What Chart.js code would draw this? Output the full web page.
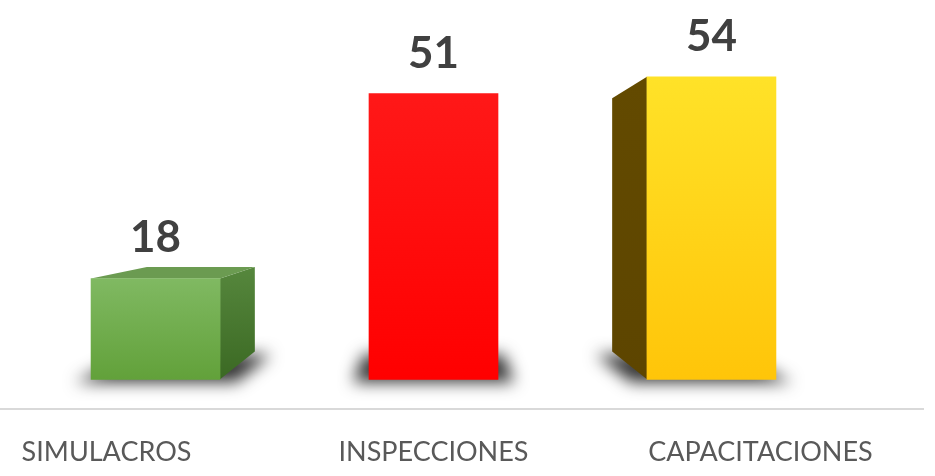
<!DOCTYPE html>
<html>
<head>
<meta charset="utf-8">
<script src="https://cdn.jsdelivr.net/npm/chart.js@4.4.1/dist/chart.umd.min.js"></script>
<style>
  html, body { margin: 0; padding: 0; background: #ffffff; width: 935px; height: 476px; overflow: hidden; }
  /* the plot runs a little past the left edge so the first category sits close to the border */
  #wrap { position: absolute; left: -57px; top: 0; width: 981px; height: 476px; }
</style>
</head>
<body>
<div id="wrap"><canvas id="chart"></canvas></div>
<script>
// ---- data ----
const categories = ['SIMULACROS', 'INSPECCIONES', 'CAPACITACIONES'];
const values = [18, 51, 54];

// ---- look ----
const palette = [
  { front: ['#80b962', '#62a13a'], side: ['#56873d', '#3b6923'], top: '#6b9b51' },
  { front: ['#ff1818', '#ff0000'], side: ['#b80000', '#9a0000'], top: '#d80000' },
  { front: ['#ffe228', '#ffc509'], side: ['#634a00', '#5d4500'], top: '#f2cf20' }
];

// the boxes stand a bit behind the axis plane, so their fronts are drawn
// smaller and pulled toward the middle of the plot
const FRONT_SCALE = 0.85;
const BACK_DEPTH = 0.163;     // how far the back face recedes toward the vanishing point
const HORIZON_VALUE = 30.5;   // height of the vanishing point on the value axis

function frontFill(c) {
  const i = c.dataIndex;
  const p = palette[i ?? 0];
  const chart = c.chart;
  const ys = chart.scales && chart.scales.y;
  if (i === undefined || !ys || !chart.chartArea) return p.front[1];
  const top = ys.getPixelForValue(values[i]);
  const base = ys.getPixelForValue(0);
  const g = chart.ctx.createLinearGradient(0, top, 0, base);
  g.addColorStop(0, p.front[0]);
  g.addColorStop(1, p.front[1]);
  return g;
}

function poly(ctx, pts) {
  ctx.beginPath();
  pts.forEach(([px, py], k) => (k ? ctx.lineTo(px, py) : ctx.moveTo(px, py)));
  ctx.closePath();
}

const box3d = {
  id: 'box3d',
  beforeDatasetsDraw(chart) {
    const ctx = chart.ctx;
    const xb = chart.scales.xb, ys = chart.scales.y;
    const vx = xb.getPixelForValue(1);
    const vy = ys.getPixelForValue(HORIZON_VALUE);
    const meta = chart.getDatasetMeta(0);
    meta.data.forEach((bar, i) => {
      const { x, y: top, base, width } = bar.getProps(['x', 'y', 'base', 'width'], true);
      const l = x - width / 2, r = x + width / 2;
      const back = (px, py) => [px + (vx - px) * BACK_DEPTH, py + (vy - py) * BACK_DEPTH];
      const fTL = [l, top], fTR = [r, top], fBL = [l, base], fBR = [r, base];
      const bTL = back(l, top), bTR = back(r, top), bBL = back(l, base), bBR = back(r, base);
      const p = palette[i];

      // soft floor shadow under the box
      const OFF = 3000, spread = 16;
      ctx.save();
      ctx.shadowColor = 'rgba(0,0,0,0.8)';
      ctx.shadowBlur = 16;
      ctx.shadowOffsetX = OFF;
      ctx.shadowOffsetY = 3;
      ctx.fillStyle = '#000';
      poly(ctx, [
        [fBL[0] - spread - OFF, fBL[1]], [fBR[0] + spread - OFF, fBR[1]],
        [bBR[0] + spread - OFF, bBR[1]], [bBL[0] - spread - OFF, bBL[1]]
      ]);
      ctx.fill();
      ctx.restore();

      // side faces that face the viewer
      ctx.save();
      if (vx > r || vx < l) {
        const pts = vx > r ? [fTR, bTR, bBR, fBR] : [fTL, bTL, bBL, fBL];
        const g = ctx.createLinearGradient(0, Math.min(top, pts[1][1]), 0, base);
        g.addColorStop(0, p.side[0]);
        g.addColorStop(1, p.side[1]);
        ctx.fillStyle = g;
        poly(ctx, pts);
        ctx.fill();
      }
      if (vy < top) {
        ctx.fillStyle = p.top;
        poly(ctx, [fTL, fTR, bTR, bTL]);
        ctx.fill();
      }
      ctx.restore();
    });
  },
  afterDatasetsDraw(chart) {
    const ctx = chart.ctx;
    const meta = chart.getDatasetMeta(0);
    ctx.save();
    ctx.font = 'bold 44px Lato, "Open Sans", sans-serif';
    ctx.fillStyle = '#404040';
    ctx.textAlign = 'center';
    ctx.textBaseline = 'alphabetic';
    meta.data.forEach((bar, i) => {
      ctx.fillText(String(values[i]), bar.x, bar.y - 26);
    });
    ctx.restore();
  }
};

function draw() {
  new Chart(document.getElementById('chart'), {
    type: 'bar',
    data: {
      labels: categories,
      datasets: [{
        data: values.map((v, i) => ({ x: i, y: v })),
        xAxisID: 'xb',
        backgroundColor: frontFill,
        borderWidth: 0,
        barThickness: 129
      }]
    },
    options: {
      responsive: true,
      maintainAspectRatio: false,
      animation: false,
      events: [],
      layout: { padding: 0 },
      plugins: { legend: { display: false }, tooltip: { enabled: false } },
      scales: {
        x: {
          type: 'category',
          position: 'bottom',
          offset: true,
          grid: { display: false, drawTicks: false },
          border: { display: true, color: '#d9d9d9', width: 2 },
          ticks: { color: '#595959', font: { family: 'Lato', size: 27 }, padding: 27, maxRotation: 0 },
          afterFit: s => { s.height = 67; }
        },
        xb: {
          type: 'linear',
          display: false,
          offset: false,
          grace: 0,
          min: 1 - 1.5 / FRONT_SCALE,
          max: 1 + 1.5 / FRONT_SCALE
        },
        y: { display: false, min: -5.3, max: 67.7 }
      }
    },
    plugins: [box3d]
  });
}

if (document.fonts && document.fonts.load) {
  Promise.all([document.fonts.load('bold 44px Lato'), document.fonts.load('27px Lato')])
    .then(draw, draw);
} else {
  draw();
}
</script>
</body>
</html>
